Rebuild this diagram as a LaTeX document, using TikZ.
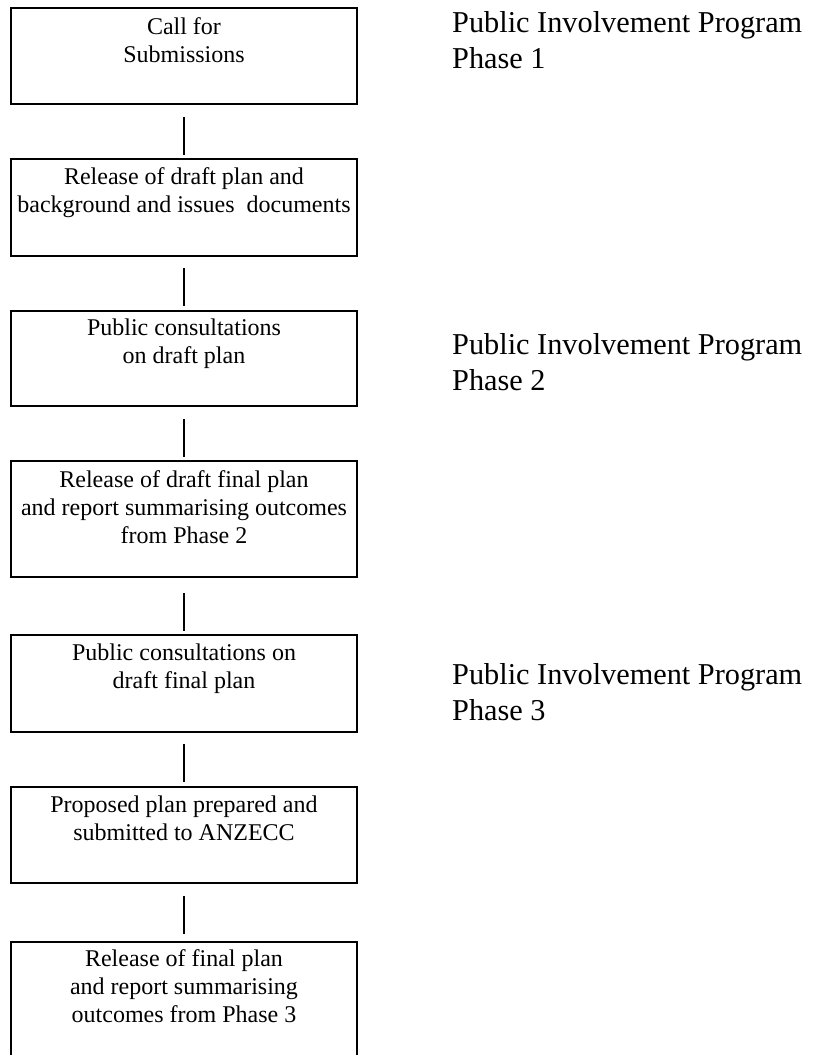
\documentclass[tikz,border=0pt]{standalone}
\usepackage{fontspec}
\setmainfont{Liberation Serif}
\begin{document}
\begin{tikzpicture}[x=1pt,y=-1pt,
  stepbox/.style={draw=black, line width=1.3pt, rectangle, minimum width=346pt, inner sep=0pt},
  boxtext/.style={anchor=north, align=center, inner sep=0pt, font=\fontsize{24}{28}\selectfont},
  phasetext/.style={anchor=north west, align=left, inner sep=0pt, font=\fontsize{30.3}{35.5}\selectfont},
  link/.style={draw=black, line width=1.3pt}]
\fill[white] (0,0) rectangle (813,1055);
\useasboundingbox (0,0) rectangle (813,1055);
\clip (0,0) rectangle (813,1055);

\node[stepbox, minimum height=96pt] (b1) at (184,56) {};
\node[stepbox, minimum height=97pt] (b2) at (184,207.5) {};
\node[stepbox, minimum height=95pt] (b3) at (184,358.5) {};
\node[stepbox, minimum height=116pt] (b4) at (184,519) {};
\node[stepbox, minimum height=97pt] (b5) at (184,683.5) {};
\node[stepbox, minimum height=96pt] (b6) at (184,835) {};
\node[stepbox, minimum height=116pt] (b7) at (184,1000) {};

\node[boxtext] (t1) at (184,17.5) {Call for\\Submissions};
\node[boxtext] (t2) at (184,167.5) {Release of draft plan and\\background and issues\ \ documents};
\node[boxtext] (t3) at (184,318.5) {Public consultations\\on draft plan};
\node[boxtext] (t4) at (184,470.5) {Release of draft final plan\\and report summarising outcomes\\from Phase 2};
\node[boxtext] (t5) at (184,643.5) {Public consultations on\\draft final plan};
\node[boxtext] (t6) at (184,795.5) {Proposed plan prepared and\\submitted to ANZECC};
\node[boxtext] (t7) at (184,949.5) {Release of final plan\\and report summarising\\outcomes from Phase 3};

\node[phasetext] (p1) at (452,11.3) {Public Involvement Program\\Phase 1};
\node[phasetext] (p2) at (452,333.3) {Public Involvement Program\\Phase 2};
\node[phasetext] (p3) at (452,663.3) {Public Involvement Program\\Phase 3};

\draw[link, shorten <=12.5pt, shorten >=3.5pt] (b1) -- (b2);
\draw[link, shorten <=11.5pt, shorten >=4.5pt] (b2) -- (b3);
\draw[link, shorten <=12.5pt, shorten >=3.5pt] (b3) -- (b4);
\draw[link, shorten <=15.5pt, shorten >=3.5pt] (b4) -- (b5);
\draw[link, shorten <=11.5pt, shorten >=4.5pt] (b5) -- (b6);
\draw[link, shorten <=12.5pt, shorten >=7.5pt] (b6) -- (b7);
\end{tikzpicture}
\end{document}
